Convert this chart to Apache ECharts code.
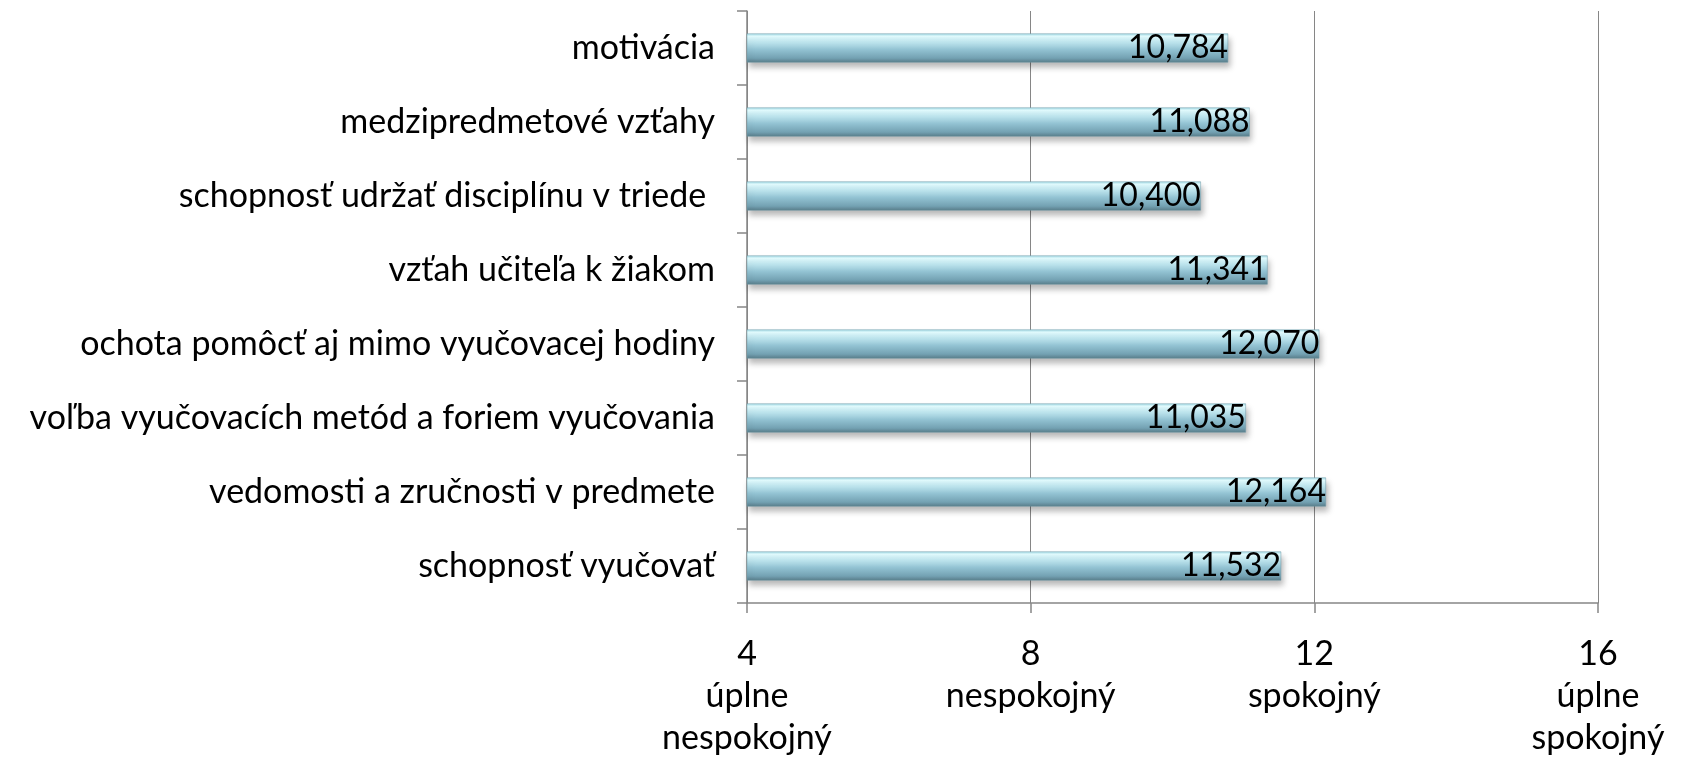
<!DOCTYPE html>
<html>
<head>
<meta charset="utf-8">
<script src="https://cdn.jsdelivr.net/npm/echarts@6/dist/echarts.min.js"></script>
<style>
  html, body { margin: 0; padding: 0; background: #fff; }
  #main { width: 1684px; height: 757px; }
</style>
</head>
<body>
<div id="main"></div>
<script>
// kategórie zhora nadol
const categories = [
  "motivácia",
  "medzipredmetové vzťahy",
  "schopnosť udržať disciplínu v triede ",
  "vzťah učiteľa k žiakom",
  "ochota pomôcť aj mimo vyučovacej hodiny",
  "voľba vyučovacích metód a foriem vyučovania",
  "vedomosti a zručnosti v predmete",
  "schopnosť vyučovať",
];
const values = [10.784, 11.088, 10.4, 11.341, 12.07, 11.035, 12.164, 11.532];
const tickLabels = {
  4: "4\núplne\nnespokojný",
  8: "8\nnespokojný",
  12: "12\nspokojný",
  16: "16\núplne\nspokojný",
};

const font = "Lato";

const option = {
  backgroundColor: "#fff",
  animation: false,
  grid: {
    left: 747,
    right: 86,
    top: 11,
    bottom: 154,
    containLabel: false,
    outerBoundsMode: "none",
  },
  xAxis: {
    type: "value",
    min: 4,
    max: 16,
    interval: 4,
    axisLine: { show: true, lineStyle: { color: "#868686", width: 1.5 } },
    axisTick: { show: true, length: 10, lineStyle: { color: "#868686", width: 1.5 } },
    splitLine: { show: true, lineStyle: { color: "#868686", width: 1 } },
    axisLabel: {
      margin: 30,
      color: "#000",
      fontFamily: font,
      fontSize: 34,
      lineHeight: 42,
      align: "center",
      formatter: (v) => tickLabels[v] || "",
    },
  },
  yAxis: {
    type: "category",
    inverse: true,
    data: categories,
    axisLine: { show: true, lineStyle: { color: "#868686", width: 1.5 } },
    axisTick: { show: true, length: 10, lineStyle: { color: "#868686", width: 1.5 } },
    axisLabel: {
      margin: 32,
      color: "#000",
      fontFamily: font,
      fontSize: 34,
    },
  },
  series: [
    {
      type: "bar",
      data: values,
      barWidth: 29,
      itemStyle: {
        color: {
          type: "linear",
          x: 0,
          y: 0,
          x2: 0,
          y2: 1,
          colorStops: [
            { offset: 0, color: "#a6dbe6" },
            { offset: 0.1, color: "#e2fcff" },
            { offset: 0.3, color: "#bfe6ef" },
            { offset: 0.55, color: "#93c3d3" },
            { offset: 0.85, color: "#73a1b2" },
            { offset: 1, color: "#587b88" },
          ],
        },
        borderColor: "#6f98a6",
        borderWidth: 0.5,
        shadowColor: "rgba(0, 0, 0, 0.28)",
        shadowBlur: 6,
        shadowOffsetX: 2,
        shadowOffsetY: 5,
      },
      label: {
        show: true,
        position: "insideRight",
        distance: 0,
        color: "#000",
        fontFamily: font,
        fontSize: 32,
        formatter: (p) => p.value.toFixed(3).replace(".", ","),
      },
    },
  ],
};

const chart = echarts.init(document.getElementById("main"));
chart.setOption(option);
</script>
</body>
</html>
